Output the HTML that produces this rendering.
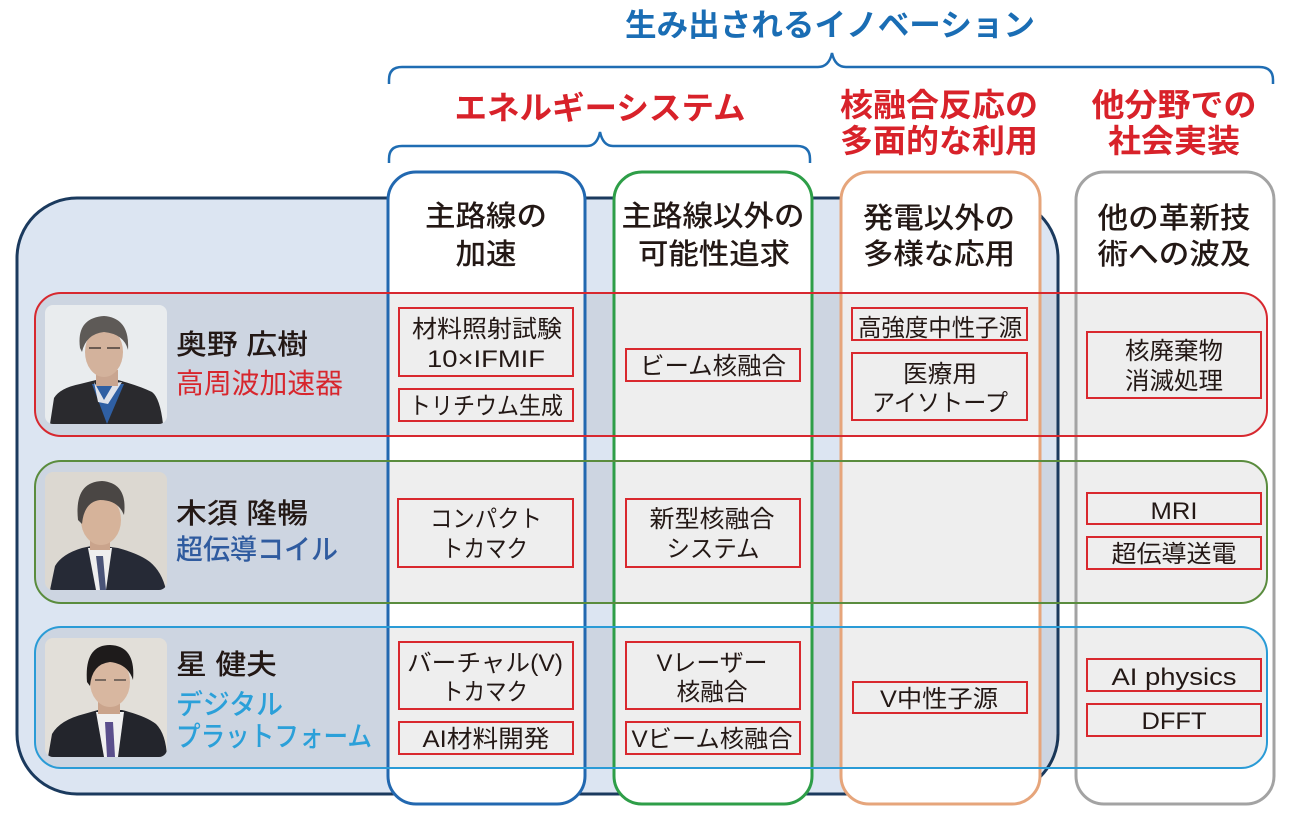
<!DOCTYPE html>
<html><head><meta charset="utf-8">
<style>
html,body{margin:0;padding:0;background:#fff;}
svg{display:block;}
text{font-family:"Liberation Sans","Noto Sans CJK JP",sans-serif;}
.h{font-size:29px;font-weight:500;fill:#231815;}
.b{font-size:24px;fill:#231815;}
.nm{font-size:28px;font-weight:500;fill:#231815;}
</style></head>
<body>
<svg width="1292" height="826" viewBox="0 0 1292 826" xmlns="http://www.w3.org/2000/svg">
<defs>
<clipPath id="p1"><rect x="45" y="305" width="122" height="119" rx="8"/></clipPath>
<clipPath id="p2"><rect x="45" y="472" width="122" height="118" rx="8"/></clipPath>
<clipPath id="p3"><rect x="45" y="638" width="122" height="119" rx="8"/></clipPath>
</defs>
<rect width="1292" height="826" fill="#fff"/>

<!-- braces -->
<path d="M389,84 L389,80 Q389,67 402,67 L818,67 Q829,67 832,53 Q835,67 846,67 L1259,67 Q1273,67 1273,80 L1273,84" fill="none" stroke="#1f6db3" stroke-width="2.5"/>
<path d="M389,163 L389,159 Q389,146 402,146 L587,146 Q597,146 600,132 Q603,146 613,146 L797,146 Q810,146 810,159 L810,163" fill="none" stroke="#1f6db3" stroke-width="2.5"/>

<!-- headings -->
<text x="830" y="36" text-anchor="middle" font-size="31" font-weight="bold" fill="#1a6db4" textLength="410" lengthAdjust="spacingAndGlyphs">生み出されるイノベーション</text>
<text x="600" y="119" text-anchor="middle" font-size="32" font-weight="bold" fill="#d8222a" textLength="291" lengthAdjust="spacingAndGlyphs">エネルギーシステム</text>
<text x="939" y="116" text-anchor="middle" font-size="32" font-weight="bold" fill="#d8222a" textLength="198" lengthAdjust="spacingAndGlyphs">核融合反応の</text>
<text x="939" y="152" text-anchor="middle" font-size="32" font-weight="bold" fill="#d8222a" textLength="198" lengthAdjust="spacingAndGlyphs">多面的な利用</text>
<text x="1174" y="116" text-anchor="middle" font-size="32" font-weight="bold" fill="#d8222a" textLength="165" lengthAdjust="spacingAndGlyphs">他分野での</text>
<text x="1174" y="152" text-anchor="middle" font-size="32" font-weight="bold" fill="#d8222a" textLength="132" lengthAdjust="spacingAndGlyphs">社会実装</text>

<!-- big box -->
<rect x="17" y="198" width="1041" height="596" rx="60" fill="#dce5f2" stroke="#1b3a5e" stroke-width="3"/>

<!-- column fills -->
<rect x="388" y="172" width="197" height="632" rx="28" fill="#fff"/>
<rect x="614" y="172" width="198" height="632" rx="28" fill="#fff"/>
<rect x="841" y="172" width="199" height="632" rx="28" fill="#fff"/>
<rect x="1076" y="172" width="198" height="632" rx="28" fill="#fff"/>

<!-- row fills -->
<rect x="35" y="293" width="1232" height="143" rx="26" fill="rgba(0,0,0,0.065)"/>
<rect x="35" y="461" width="1232" height="142" rx="26" fill="rgba(0,0,0,0.065)"/>
<rect x="35" y="627" width="1232" height="141" rx="26" fill="rgba(0,0,0,0.065)"/>

<!-- big box right edge visible through rows -->
<path d="M1058,258 L1058,734" fill="none" stroke="#1b3a5e" stroke-width="3"/>

<!-- column strokes -->
<rect x="388" y="172" width="197" height="632" rx="28" fill="none" stroke="#2268b0" stroke-width="3"/>
<rect x="614" y="172" width="198" height="632" rx="28" fill="none" stroke="#2e9e48" stroke-width="3"/>
<rect x="841" y="172" width="199" height="632" rx="28" fill="none" stroke="#e6a57b" stroke-width="3"/>
<rect x="1076" y="172" width="198" height="632" rx="28" fill="none" stroke="#a3a3a3" stroke-width="3"/>

<!-- row strokes -->
<rect x="35" y="293" width="1232" height="143" rx="26" fill="none" stroke="#d7282f" stroke-width="2"/>
<rect x="35" y="461" width="1232" height="142" rx="26" fill="none" stroke="#5a8c3e" stroke-width="2"/>
<rect x="35" y="627" width="1232" height="141" rx="26" fill="none" stroke="#2a9bd6" stroke-width="2"/>

<!-- column headers -->
<text class="h" x="486" y="226" text-anchor="middle" textLength="122" lengthAdjust="spacingAndGlyphs">主路線の</text>
<text class="h" x="486" y="264" text-anchor="middle" textLength="61" lengthAdjust="spacingAndGlyphs">加速</text>
<text class="h" x="713" y="226" text-anchor="middle" textLength="183" lengthAdjust="spacingAndGlyphs">主路線以外の</text>
<text class="h" x="714" y="264" text-anchor="middle" textLength="152" lengthAdjust="spacingAndGlyphs">可能性追求</text>
<text class="h" x="939" y="228" text-anchor="middle" textLength="152" lengthAdjust="spacingAndGlyphs">発電以外の</text>
<text class="h" x="939" y="264" text-anchor="middle" textLength="152" lengthAdjust="spacingAndGlyphs">多様な応用</text>
<text class="h" x="1174" y="228" text-anchor="middle" textLength="153" lengthAdjust="spacingAndGlyphs">他の革新技</text>
<text class="h" x="1174" y="264" text-anchor="middle" textLength="153" lengthAdjust="spacingAndGlyphs">術への波及</text>

<!-- inner boxes -->
<g fill="none" stroke="#d9282e" stroke-width="2">
<rect x="399" y="308" width="174" height="68"/>
<rect x="399" y="389" width="174" height="32"/>
<rect x="626" y="349" width="174" height="32"/>
<rect x="852" y="308" width="175" height="32"/>
<rect x="852" y="353" width="175" height="67"/>
<rect x="1087" y="332" width="174" height="66"/>
<rect x="398" y="499" width="175" height="68"/>
<rect x="626" y="499" width="174" height="68"/>
<rect x="1087" y="493" width="174" height="31"/>
<rect x="1087" y="537" width="174" height="32"/>
<rect x="399" y="642" width="174" height="67"/>
<rect x="399" y="722" width="174" height="32"/>
<rect x="626" y="642" width="174" height="67"/>
<rect x="626" y="722" width="174" height="32"/>
<rect x="853" y="682" width="174" height="31"/>
<rect x="1087" y="659" width="174" height="32"/>
<rect x="1087" y="704" width="174" height="32"/>
</g>

<!-- inner texts -->
<text class="b" x="487" y="337" text-anchor="middle" textLength="150" lengthAdjust="spacingAndGlyphs">材料照射試験</text>
<text class="b" x="486" y="367" text-anchor="middle" textLength="118" lengthAdjust="spacingAndGlyphs">10×IFMIF</text>
<text class="b" x="486" y="414" text-anchor="middle" textLength="154" lengthAdjust="spacingAndGlyphs">トリチウム生成</text>
<text class="b" x="713" y="374" text-anchor="middle" textLength="146" lengthAdjust="spacingAndGlyphs">ビーム核融合</text>
<text class="b" x="940" y="336" text-anchor="middle" textLength="164" lengthAdjust="spacingAndGlyphs">高強度中性子源</text>
<text class="b" x="940" y="382" text-anchor="middle" textLength="74" lengthAdjust="spacingAndGlyphs">医療用</text>
<text class="b" x="940" y="411" text-anchor="middle" textLength="136" lengthAdjust="spacingAndGlyphs">アイソトープ</text>
<text class="b" x="1174" y="359" text-anchor="middle" textLength="98" lengthAdjust="spacingAndGlyphs">核廃棄物</text>
<text class="b" x="1174" y="389" text-anchor="middle" textLength="98" lengthAdjust="spacingAndGlyphs">消滅処理</text>

<text class="b" x="486" y="527" text-anchor="middle" textLength="112" lengthAdjust="spacingAndGlyphs">コンパクト</text>
<text class="b" x="485" y="557" text-anchor="middle" textLength="86" lengthAdjust="spacingAndGlyphs">トカマク</text>
<text class="b" x="712" y="527" text-anchor="middle" textLength="125" lengthAdjust="spacingAndGlyphs">新型核融合</text>
<text class="b" x="713" y="557" text-anchor="middle" textLength="93" lengthAdjust="spacingAndGlyphs">システム</text>
<text class="b" x="1174" y="519" text-anchor="middle" textLength="47" lengthAdjust="spacingAndGlyphs">MRI</text>
<text class="b" x="1174" y="562" text-anchor="middle" textLength="125" lengthAdjust="spacingAndGlyphs">超伝導送電</text>

<text class="b" x="485" y="671" text-anchor="middle" textLength="156" lengthAdjust="spacingAndGlyphs">バーチャル(V)</text>
<text class="b" x="485" y="700" text-anchor="middle" textLength="86" lengthAdjust="spacingAndGlyphs">トカマク</text>
<text class="b" x="486" y="747" text-anchor="middle" textLength="127" lengthAdjust="spacingAndGlyphs">AI材料開発</text>
<text class="b" x="712" y="671" text-anchor="middle" textLength="111" lengthAdjust="spacingAndGlyphs">Vレーザー</text>
<text class="b" x="712" y="700" text-anchor="middle" textLength="71" lengthAdjust="spacingAndGlyphs">核融合</text>
<text class="b" x="712" y="747" text-anchor="middle" textLength="161" lengthAdjust="spacingAndGlyphs">Vビーム核融合</text>
<text class="b" x="939" y="707" text-anchor="middle" textLength="118" lengthAdjust="spacingAndGlyphs">V中性子源</text>
<text class="b" x="1174" y="685" text-anchor="middle" textLength="125" lengthAdjust="spacingAndGlyphs">AI physics</text>
<text class="b" x="1174" y="729" text-anchor="middle" textLength="65" lengthAdjust="spacingAndGlyphs">DFFT</text>

<!-- names -->
<text class="nm" x="176" y="354" textLength="132" lengthAdjust="spacingAndGlyphs">奥野 広樹</text>
<text x="176" y="393" font-size="28" fill="#d7262d" textLength="167" lengthAdjust="spacingAndGlyphs">高周波加速器</text>
<text class="nm" x="176" y="523" textLength="132" lengthAdjust="spacingAndGlyphs">木須 隆暢</text>
<text x="176" y="559" font-size="28" font-weight="500" fill="#2f5b9f" textLength="162" lengthAdjust="spacingAndGlyphs">超伝導コイル</text>
<text class="nm" x="176" y="674" textLength="101" lengthAdjust="spacingAndGlyphs">星 健夫</text>
<text x="176" y="714" font-size="28" font-weight="500" fill="#2ba0d9" textLength="107" lengthAdjust="spacingAndGlyphs">デジタル</text>
<text x="176" y="746" font-size="28" font-weight="500" fill="#2ba0d9" textLength="196" lengthAdjust="spacingAndGlyphs">プラットフォーム</text>

<!-- photo 1 -->
<g clip-path="url(#p1)">
<rect x="45" y="305" width="122" height="119" fill="#e9ecee"/>
<path d="M50,424 L54,398 Q60,388 80,384 L96,380 L118,380 Q140,386 152,392 Q160,398 163,424 Z" fill="#2a2a2e"/>
<path d="M92,384 L107,424 L124,384 Z" fill="#2f5fa3"/>
<path d="M94,382 L104,400 L114,383 L122,382 L108,404 L98,402 Z" fill="#dfe2ea"/>
<rect x="96" y="370" width="22" height="16" fill="#c9a590"/>
<ellipse cx="104" cy="352" rx="19" ry="25" fill="#d3b29c"/>
<path d="M80,348 Q76,318 104,316 Q130,318 128,350 Q124,334 104,332 Q86,334 82,352 Z" fill="#5e5a57"/>
<path d="M89,348 L101,348 M107,348 L120,348" stroke="#6b5b52" stroke-width="2"/>
</g>
<!-- photo 2 -->
<g clip-path="url(#p2)">
<rect x="45" y="472" width="122" height="118" fill="#dcd8d1"/>
<path d="M50,590 L55,566 Q62,554 82,548 L96,545 L118,548 Q140,554 150,562 Q162,572 166,590 Z" fill="#262a36"/>
<path d="M88,548 L96,590 L106,590 L112,548 Z" fill="#eeeeee"/>
<path d="M96,556 L100,590 L106,590 L103,556 Z" fill="#4a5478"/>
<rect x="90" y="534" width="20" height="16" fill="#caa48c"/>
<ellipse cx="101" cy="520" rx="20" ry="25" fill="#d6b39a"/>
<path d="M78,520 Q74,482 102,481 Q128,483 124,515 Q118,500 100,500 Q84,502 82,524 Z" fill="#4a4644"/>
</g>
<!-- photo 3 -->
<g clip-path="url(#p3)">
<rect x="45" y="638" width="122" height="119" fill="#e2dfd9"/>
<path d="M48,757 L52,734 Q60,720 84,714 L98,710 L122,710 Q146,716 156,724 Q166,734 167,757 Z" fill="#23252c"/>
<path d="M96,712 L104,757 L118,757 L124,712 Z" fill="#f0f0f0"/>
<path d="M105,722 L107,757 L115,757 L113,722 Z" fill="#5a4f8c"/>
<rect x="98" y="698" width="22" height="16" fill="#caa48c"/>
<ellipse cx="110" cy="682" rx="20" ry="25" fill="#d8b7a0"/>
<path d="M87,682 Q84,645 110,645 Q136,646 133,680 Q128,664 110,662 Q92,664 90,686 Z" fill="#1e1b1b"/>
<path d="M95,680 L106,680 M114,680 L126,680" stroke="#7a6a60" stroke-width="2"/>
</g>
</svg>
</body></html>
